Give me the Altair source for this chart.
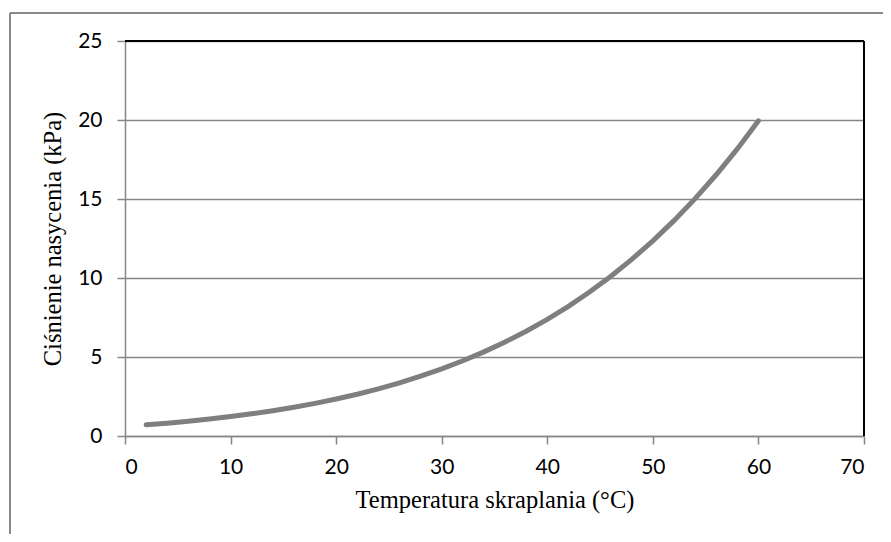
import altair as alt
import pandas as pd

temps = [2, 4, 6, 8, 10, 12, 14, 16, 18, 20, 22, 24, 26, 28, 30,
         32, 34, 36, 38, 40, 42, 44, 46, 48, 50, 52, 54, 56, 58, 60]
pressure = [0.706, 0.813, 0.935, 1.073, 1.228, 1.403, 1.599, 1.819, 2.065, 2.339,
            2.645, 2.986, 3.364, 3.783, 4.247, 4.760, 5.325, 5.948, 6.633, 7.385,
            8.210, 9.112, 10.099, 11.177, 12.352, 13.631, 15.022, 16.533, 18.171, 19.946]
x_ticks = [0, 10, 20, 30, 40, 50, 60, 70]
y_ticks = [0, 5, 10, 15, 20, 25]

W, H = 739, 395
df = pd.DataFrame({"t": temps, "p": pressure})

GRAY = "#878787"

line = alt.Chart(df).mark_line(color="#7f7f7f", strokeWidth=5, strokeCap="round").encode(
    x=alt.X("t:Q", scale=alt.Scale(domain=[0, 70], nice=False),
            axis=alt.Axis(values=x_ticks, title="Temperatura skraplania (°C)", grid=False,
                          titlePadding=11)),
    y=alt.Y("p:Q", scale=alt.Scale(domain=[0, 25], nice=False),
            axis=alt.Axis(values=y_ticks, title="Ciśnienie nasycenia (kPa)", grid=True,
                          titlePadding=12)),
)

# black top and right frame of plot area
top_rule = alt.Chart(df).mark_rule(color="black", strokeWidth=2).encode(
    x=alt.value(0), x2=alt.value(W), y=alt.value(0))
right_rule = alt.Chart(df).mark_rule(color="black", strokeWidth=2).encode(
    x=alt.value(W), y=alt.value(0), y2=alt.value(H))

# outer figure frame (left and top, partly outside the picture)
frame_left = alt.Chart(df).mark_rule(color="#8a8a8a", strokeWidth=2, clip=False).encode(
    x=alt.value(-115), y=alt.value(-28), y2=alt.value(H + 120))
frame_top = alt.Chart(df).mark_rule(color="#8a8a8a", strokeWidth=2, clip=False).encode(
    x=alt.value(-115), x2=alt.value(W + 40), y=alt.value(-28))

chart = alt.layer(frame_left, frame_top, line, top_rule, right_rule).properties(
    width=W, height=H,
    autosize=alt.AutoSizeParams(type="none"),
    padding={"left": 117, "top": 33, "right": 19, "bottom": 98},
    background="white",
).configure_view(stroke=None).configure_axis(
    domainColor=GRAY, domainWidth=1.5,
    tickColor=GRAY, tickWidth=1.5, tickSize=8,
    gridColor=GRAY, gridWidth=1.5,
    labelFont="Lato", labelFontSize=21, labelColor="black", labelPadding=12,
    titleFont="Liberation Serif", titleFontSize=24.5, titleFontWeight="normal", titleColor="black",
).configure_axisY(labelPadding=15)

chart.save("out.html", embed_options={"renderer": "svg", "actions": False})
